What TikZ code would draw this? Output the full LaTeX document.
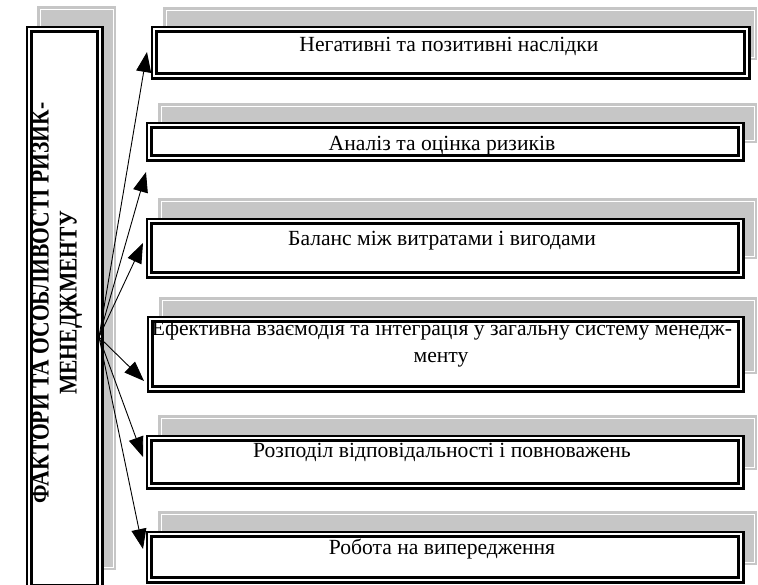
\documentclass[tikz,border=0pt]{standalone}
\usepackage{fontspec}
\setmainfont{Liberation Serif}
\usetikzlibrary{arrows.meta,calc}
\definecolor{shadowgray}{RGB}{198,198,198}
\tikzset{
  shadowbox/.style={fill=shadowgray,draw=none},
  shadowline/.style={draw=white,line width=0.8pt},
  framebox/.style={draw=black,fill=white,double=white,double distance=2pt,line width=2.6pt,
    inner sep=0pt,outer sep=3.6pt,anchor=north west},
  boxtext/.style={font=\fontsize{21.6}{25}\selectfont,inner sep=0pt,anchor=base},
  sidetext/.style={font=\fontsize{25.5}{28}\selectfont\bfseries,rotate=90,inner sep=0pt},
  link/.style={draw=black,line width=0.9pt,-{Triangle[length=20pt,width=15pt]}}
}
\newcommand{\shadowrect}[4]{%
  \fill[shadowbox] (#1,#2) rectangle (#3,#4);
  \draw[shadowline] ($(#1,#2)+(3,3)$) rectangle ($(#3,#4)+(-3,-3)$);}
% outer edges x1 y1 x2 y2 -> framed node
\newcommand{\framed}[5]{%
  \node[framebox,minimum width={#4-#2-7.2},minimum height={#5-#3-7.2}] (#1) at ({#2+3.6},{#3+3.6}) {};}
\begin{document}
\begin{tikzpicture}[x=1pt,y=-1pt]
\useasboundingbox (0,0) rectangle (758,584);
% shadows
\shadowrect{37}{6}{116}{570}
\shadowrect{163}{7}{757}{60}
\shadowrect{158}{103}{757}{143}
\shadowrect{158}{198}{757}{259}
\shadowrect{159}{297}{757}{374}
\shadowrect{158}{415}{757}{470}
\shadowrect{158}{511}{757}{565}
% frames
\framed{src}{22}{22}{100}{588}
\framed{b1}{147}{22}{747}{76}
\framed{b2}{142}{118}{741}{158}
\framed{b3}{142}{214}{741}{275}
\framed{b4}{143}{312}{741}{389}
\framed{b5}{142}{431}{741}{486}
\framed{b6}{142}{527}{741}{580}
% texts
\node[sidetext] (srctext) at (57,303) {\scalebox{0.845}[1]{\begin{tabular}{@{}c@{}}ФАКТОРИ ТА ОСОБЛИВОСТІ РИЗИК-\\МЕНЕДЖМЕНТУ\end{tabular}}};
\node[boxtext] (t1) at (449,51) {Негативні та позитивні наслідки};
\node[boxtext] (t2) at (442,150) {Аналіз та оцінка ризиків};
\node[boxtext] (t3) at (442,245) {Баланс між витратами і вигодами};
\node[boxtext] (t4a) at (442,335) {Ефективна взаємодія та інтеграція у загальну систему менедж-};
\node[boxtext] (t4b) at (441,362) {менту};
\node[boxtext] (t5) at (442,457) {Розподіл відповідальності і повноважень};
\node[boxtext] (t6) at (442,554) {Робота на випередження};
% connectors
\coordinate (o) at (99,337);
\coordinate (e1) at (147,52);
\coordinate (e2) at (146,172);
\coordinate (e3) at (143,243);
\coordinate (e4) at (144,381);
\coordinate (e5) at (143,457);
\coordinate (e6) at (143,549);
\draw[link] (o) -- (e1);
\draw[link] (o) -- (e2);
\draw[link] (o) -- (e3);
\draw[link] (o) -- (e4);
\draw[link] (o) -- (e5);
\draw[link] (o) -- (e6);
\end{tikzpicture}
\end{document}
